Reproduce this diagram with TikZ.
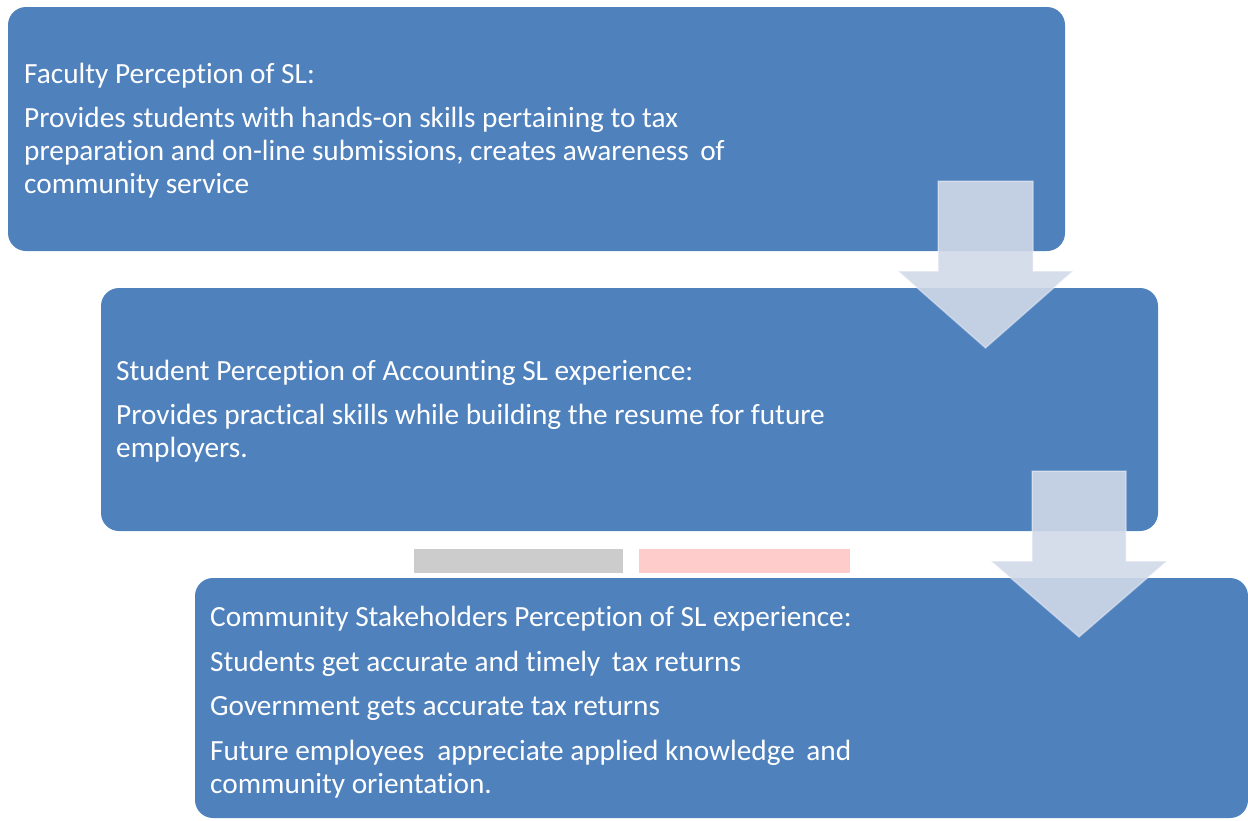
\documentclass[tikz,border=0pt]{standalone}
\usepackage{fontspec}
\setmainfont[Ligatures={NoCommon}]{Carlito}
\definecolor{boxblue}{HTML}{4F81BD}
\definecolor{arrowfill}{HTML}{D0D8E8}
\definecolor{bargray}{HTML}{CCCCCC}
\definecolor{barpink}{HTML}{FFCCCC}
\begin{document}
\begin{tikzpicture}[x=1pt,y=-1pt,
  stagebox/.style={rectangle, fill=boxblue, draw=none, rounded corners=18pt, inner sep=0pt},
  txt/.style={anchor=base west, inner sep=0pt, text=white, font=\fontsize{29.3}{34}\selectfont},
  downarrow/.style={fill=arrowfill, fill opacity=0.9, draw=white, draw opacity=0.35, line width=1.5pt},
  bar/.style={rectangle, draw=none, inner sep=0pt, minimum height=24pt}]
\useasboundingbox (0,0) rectangle (1248,820);

% stage boxes
\node[stagebox, minimum width=1057pt, minimum height=244pt] (b1) at (536.5,129) {};
\node[stagebox, minimum width=1057pt, minimum height=243pt] (b2) at (629.5,409.5) {};
\node[stagebox, minimum width=1053pt, minimum height=240pt] (b3) at (721.5,698) {};

% bars between box 2 and box 3
\node[bar, fill=bargray, minimum width=209pt] (g1) at (518.5,561) {};
\node[bar, fill=barpink, minimum width=211pt] (p1) at (744.5,561) {};

% block arrows
\draw[downarrow] (938,181) -- (1033,181) -- (1033,271) -- (1073,271) -- (985.5,348)
  -- (898,271) -- (938,271) -- cycle;
\draw[downarrow] (1032,471) -- (1126,471) -- (1126,561) -- (1167,561) -- (1079,637)
  -- (991,561) -- (1032,561) -- cycle;

% texts box 1
\node[txt] (t1a) at (24,83) {Faculty Perception of SL:};
\node[txt] (t1b) at (24,127) {Provides students with hands-on skills pertaining to tax};
\node[txt] (t1c) at (24,160) {preparation and on-line submissions, creates awareness\ \,of};
\node[txt] (t1d) at (24,193) {community service};

% texts box 2
\node[txt] (t2a) at (116,380) {Student Perception of Accounting SL experience:};
\node[txt] (t2b) at (116,424) {Provides practical skills while building the resume for future};
\node[txt] (t2c) at (116,457) {employers.};

% texts box 3
\node[txt] (t3a) at (210,626) {Community Stakeholders Perception of SL experience:};
\node[txt] (t3b) at (210,671) {Students get accurate and timely\ \,tax returns};
\node[txt] (t3c) at (210,715) {Government gets accurate tax returns};
\node[txt] (t3d) at (210,760) {Future employees\ \ appreciate applied knowledge\ \,and};
\node[txt] (t3e) at (210,793) {community orientation.};
\end{tikzpicture}
\end{document}
